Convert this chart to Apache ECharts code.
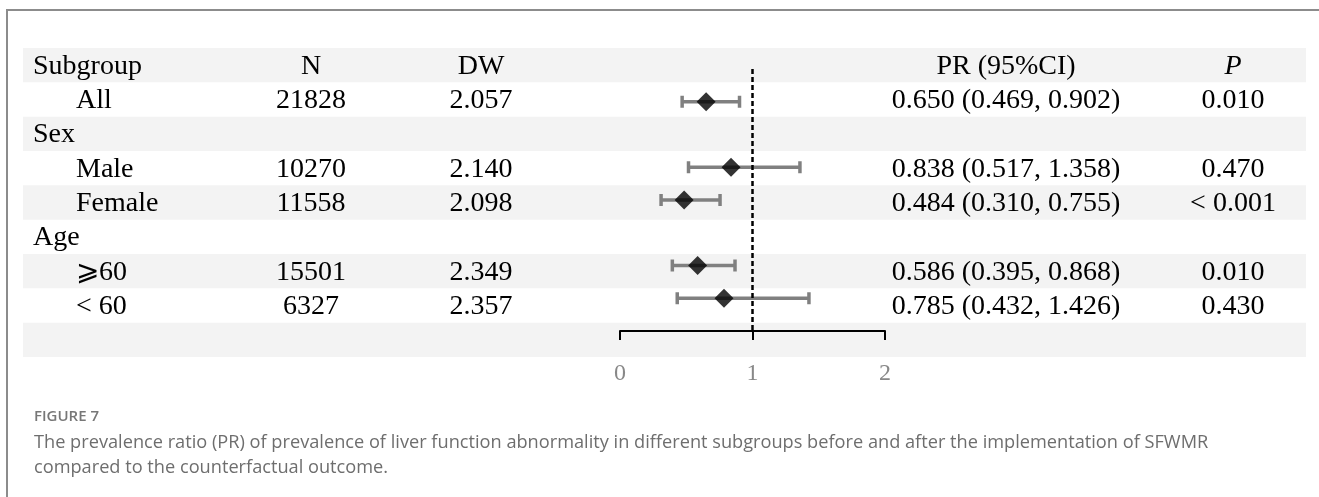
<!DOCTYPE html>
<html>
<head>
<meta charset="utf-8">
<script src="https://cdn.jsdelivr.net/npm/echarts@6/dist/echarts.min.js"></script>
<style>
  html, body { margin: 0; padding: 0; background: #fff; }
  #main { width: 1319px; height: 497px; }
</style>
</head>
<body>
<div id="main"></div>
<script>
// table rows
var subgroups = ['Subgroup', 'All', 'Sex', 'Male', 'Female', 'Age', '⩾60', '< 60'];
var isSubRow = [false, true, false, true, true, false, true, true];
var nValues = ['N', '21828', '', '10270', '11558', '', '15501', '6327'];
var dwValues = ['DW', '2.057', '', '2.140', '2.098', '', '2.349', '2.357'];

// estimates (rows that have a PR)
var estRows = [1, 3, 4, 6, 7];
var prValues = [0.650, 0.838, 0.484, 0.586, 0.785];
var prLower = [0.469, 0.517, 0.310, 0.395, 0.432];
var prUpper = [0.902, 1.358, 0.755, 0.868, 1.426];
var pValues = ['0.010', '0.470', '< 0.001', '0.010', '0.430'];
var xTicks = [0, 1, 2];

var serif = 'Liberation Serif';
var colX = {sub: 33, indent: 76, n: 311, dw: 481, pr: 1006, p: 1233};
var bandRows = [0, 2, 4, 6, 8];

// build text cells
var cells = [];
subgroups.forEach(function (s, i) {
    cells.push({x: isSubRow[i] ? colX.indent : colX.sub, r: i, text: s, align: 'left'});
    cells.push({x: colX.n, r: i, text: nValues[i], align: 'center'});
    cells.push({x: colX.dw, r: i, text: dwValues[i], align: 'center'});
});
cells.push({x: colX.pr, r: 0, text: 'PR (95%CI)', align: 'center'});
cells.push({x: colX.p, r: 0, text: 'P', align: 'center', italic: true});
estRows.forEach(function (r, k) {
    cells.push({
        x: colX.pr, r: r, align: 'center',
        text: prValues[k].toFixed(3) + ' (' + prLower[k].toFixed(3) + ', ' + prUpper[k].toFixed(3) + ')'
    });
    cells.push({x: colX.p, r: r, text: pValues[k], align: 'center'});
});

var chart = echarts.init(document.getElementById('main'), null, {renderer: 'canvas'});

chart.setOption({
    animation: false,
    backgroundColor: '#fff',
    grid: [
        {left: 0, top: 48, width: 1319, height: 309},
        {left: 620, top: 69, width: 265, height: 262}
    ],
    xAxis: [
        {gridIndex: 0, type: 'value', min: 0, max: 1319, show: false},
        {
            gridIndex: 1, type: 'value', min: 0, max: 2, interval: 1, z: 10,
            axisLine: {show: true, onZero: false, lineStyle: {color: '#000', width: 2}},
            axisTick: {show: true, length: 9, lineStyle: {color: '#000', width: 2}},
            axisLabel: {
                color: '#888', fontFamily: serif, fontSize: 24, margin: 31,
                formatter: function (v) { return xTicks.indexOf(v) > -1 ? String(v) : ''; }
            },
            splitLine: {show: false}
        }
    ],
    yAxis: [
        {gridIndex: 0, type: 'value', min: 0, max: 9, inverse: true, show: false},
        {gridIndex: 1, type: 'value', min: 0, max: 8, inverse: true, show: false}
    ],
    series: [
        { // grey row bands
            type: 'custom', xAxisIndex: 0, yAxisIndex: 0, silent: true, z: 1,
            data: bandRows.map(function (r) { return [23, r]; }),
            renderItem: function (params, api) {
                var p0 = api.coord([23, api.value(1)]);
                var p1 = api.coord([1306, api.value(1) + 1]);
                return {
                    type: 'rect',
                    shape: {x: p0[0], y: p0[1], width: p1[0] - p0[0], height: p1[1] - p0[1]},
                    style: {fill: '#f3f3f3'}
                };
            }
        },
        { // table text
            type: 'custom', xAxisIndex: 0, yAxisIndex: 0, silent: true, z: 5,
            data: cells.map(function (c, i) { return [c.x, c.r + 0.5, i]; }),
            renderItem: function (params, api) {
                var c = cells[api.value(2)];
                var p = api.coord([api.value(0), api.value(1)]);
                return {
                    type: 'text',
                    x: p[0], y: p[1] + 1,
                    style: {
                        text: c.text, fill: '#000',
                        fontFamily: serif, fontSize: 28,
                        fontStyle: c.italic ? 'italic' : 'normal',
                        align: c.align, verticalAlign: 'middle'
                    }
                };
            }
        },
        { // confidence intervals
            type: 'custom', xAxisIndex: 1, yAxisIndex: 1, silent: true, z: 3,
            data: estRows.map(function (r, k) { return [prLower[k], prUpper[k], r]; }),
            encode: {x: [0, 1], y: 2},
            renderItem: function (params, api) {
                var lo = api.coord([api.value(0), api.value(2)]);
                var hi = api.coord([api.value(1), api.value(2)]);
                var h = 6;
                var st = {stroke: '#808080', lineWidth: 3.5};
                return {
                    type: 'group',
                    children: [
                        {type: 'line', shape: {x1: lo[0], y1: lo[1], x2: hi[0], y2: hi[1]}, style: st},
                        {type: 'line', shape: {x1: lo[0], y1: lo[1] - h, x2: lo[0], y2: lo[1] + h}, style: st},
                        {type: 'line', shape: {x1: hi[0], y1: hi[1] - h, x2: hi[0], y2: hi[1] + h}, style: st}
                    ]
                };
            }
        },
        { // point estimates
            type: 'scatter', xAxisIndex: 1, yAxisIndex: 1, silent: true, z: 4,
            symbol: 'diamond', symbolSize: 19,
            itemStyle: {color: '#000'},
            data: estRows.map(function (r, k) { return [prValues[k], r]; }),
            markLine: {
                silent: true, symbol: ['none', 'none'],
                label: {show: false},
                lineStyle: {color: '#000', width: 2.5, type: [5, 3]},
                data: [{xAxis: 1}]
            }
        }
    ],
    graphic: [
        {type: 'line', shape: {x1: 6, y1: 10, x2: 1319, y2: 10}, style: {stroke: '#8c8c8c', lineWidth: 2}},
        {type: 'line', shape: {x1: 7, y1: 10, x2: 7, y2: 497}, style: {stroke: '#8c8c8c', lineWidth: 2}},
        {
            type: 'text', x: 34, y: 417,
            style: {text: 'FIGURE 7', fontFamily: 'Open Sans', fontWeight: 600, fontSize: 15, fill: '#777', verticalAlign: 'middle'}
        },
        {
            type: 'text', x: 34, y: 443,
            style: {
                text: 'The prevalence ratio (PR) of prevalence of liver function abnormality in different subgroups before and after the implementation of SFWMR',
                fontFamily: 'Open Sans', fontSize: 18.2, fill: '#6e6e6e', verticalAlign: 'middle'
            }
        },
        {
            type: 'text', x: 34, y: 468,
            style: {
                text: 'compared to the counterfactual outcome.',
                fontFamily: 'Open Sans', fontSize: 18.2, fill: '#6e6e6e', verticalAlign: 'middle'
            }
        }
    ]
});
</script>
</body>
</html>
